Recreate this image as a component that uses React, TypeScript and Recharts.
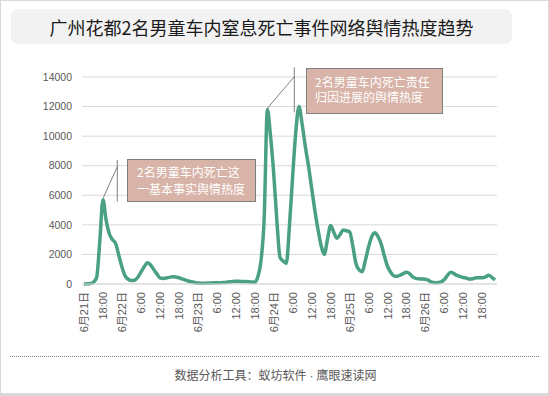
import React from 'react';
import { LineChart, Line, XAxis, YAxis, CartesianGrid } from 'recharts';

// Hourly heat values, starting 6月21日 12:00
const day21 = [0, 10, 30, 120, 450, 2900, 5700, 4300, 3400, 3000, 2750, 1950];
const day22 = [1150, 550, 320, 230, 250, 450, 800, 1150, 1430, 1300, 1000, 700, 420, 380, 400, 450, 490, 480, 420, 350, 280, 200, 150, 100];
const day23 = [60, 50, 50, 60, 70, 80, 80, 90, 100, 120, 150, 170, 180, 180, 170, 170, 160, 130, 120, 500, 1600, 4500, 11800, 10000];
const day24 = [7500, 4300, 1800, 1550, 1400, 4000, 7300, 10300, 12000, 10800, 9300, 8000, 6500, 5000, 3700, 2600, 2000, 3000, 3950, 3500, 3100, 3350, 3650, 3600];
const day25 = [3530, 2600, 1400, 950, 830, 1600, 2500, 3200, 3460, 3200, 2700, 1900, 1200, 800, 550, 520, 600, 700, 800, 700, 480, 380, 350, 340];
const day26 = [320, 250, 120, 80, 100, 150, 300, 600, 800, 700, 580, 500, 440, 400, 330, 350, 430, 430, 430, 480, 600, 450, 270];

const days = [
  { day: 21, startHour: 12, values: day21 },
  { day: 22, startHour: 0, values: day22 },
  { day: 23, startHour: 0, values: day23 },
  { day: 24, startHour: 0, values: day24 },
  { day: 25, startHour: 0, values: day25 },
  { day: 26, startHour: 0, values: day26 },
];

const tickLabels = [
  '6月21日', '18:00',
  '6月22日', '6:00', '12:00', '18:00',
  '6月23日', '6:00', '12:00', '18:00',
  '6月24日', '6:00', '12:00', '18:00',
  '6月25日', '6:00', '12:00', '18:00',
  '6月26日', '6:00', '12:00', '18:00',
];

const data: { key: string; idx: number; value: number }[] = [];
days.forEach((d) => {
  d.values.forEach((v, j) => {
    data.push({ key: `6/${d.day} ${d.startHour + j}:00`, idx: data.length, value: v });
  });
});

const yTicks = [0, 2000, 4000, 6000, 8000, 10000, 12000, 14000];

const title = '广州花都2名男童车内窒息死亡事件网络舆情热度趋势';
const note1 = '2名男童车内死亡这\n一基本事实舆情热度';
const note2 = '2名男童车内死亡责任\n归因进展的舆情热度';
const footerLeft = '数据分析工具：蚁坊软件';
const footerRight = '鹰眼速读网';

const CJK = '"Noto Sans CJK SC", "Liberation Sans", sans-serif';
const NUM = '"Liberation Sans", "Noto Sans CJK SC", sans-serif';

const XTick = (props: any) => {
  const { x, y, payload } = props;
  const i = data.findIndex((d) => d.key === payload.value);
  const label = tickLabels[Math.round(i / 6)] ?? '';
  return (
    <text
      x={x}
      y={y}
      transform={`rotate(-90 ${x} ${y})`}
      textAnchor="end"
      dominantBaseline="central"
      fill="#595959"
      fontSize={11}
      fontFamily={NUM}
    >
      {label}
    </text>
  );
};

const boxStyle: React.CSSProperties = {
  position: 'absolute',
  background: '#d8b3a7',
  border: '1px solid #7f7f7f',
  boxSizing: 'border-box',
  color: '#ffffff',
  fontFamily: CJK,
  fontSize: 12,
  whiteSpace: 'pre',
};

export default function App() {
  return (
    <div
      style={{
        position: 'absolute',
        left: 0,
        top: 0,
        width: 549,
        height: 396,
        boxSizing: 'border-box',
        border: '1px solid #d9d9d9',
        borderBottomWidth: 3,
        background: '#ffffff',
        overflow: 'hidden',
      }}
    >
      <div
        style={{
          position: 'absolute',
          left: 10,
          top: 8,
          width: 501,
          height: 35,
          background: '#f2f2f2',
          borderRadius: 7,
          display: 'flex',
          alignItems: 'center',
          justifyContent: 'center',
          fontFamily: CJK,
          fontSize: 18,
          color: '#1a1a1a',
          whiteSpace: 'nowrap',
        }}
      >
        {title}
      </div>

      <div style={{ position: 'absolute', left: -1, top: -1 }}>
        <LineChart
          width={549}
          height={396}
          data={data}
          margin={{ top: 77, right: 52, left: 0, bottom: 0 }}
        >
          <CartesianGrid vertical={false} stroke="#d9d9d9" strokeWidth={1} />
          <XAxis
            dataKey="key"
            interval={5}
            height={112}
            padding={{ left: 2, right: 2 }}
            axisLine={{ stroke: '#d9d9d9' }}
            tickLine={false}
            tick={<XTick />}
          />
          <YAxis
            width={82}
            domain={[0, 14000]}
            ticks={yTicks}
            axisLine={false}
            tickLine={false}
            tickSize={0}
            tickMargin={10}
            tick={{ fill: '#595959', fontSize: 10.5, fontFamily: NUM }}
          />
          <Line
            type="monotone"
            dataKey="value"
            stroke="#4aa085"
            strokeWidth={3.5}
            dot={false}
            isAnimationActive={false}
          />
        </LineChart>
      </div>

      <svg
        width={549}
        height={396}
        style={{ position: 'absolute', left: -1, top: -1, pointerEvents: 'none' }}
      >
        <polyline points="103.3,197.7 117.3,166.7" fill="none" stroke="#7f7f7f" strokeWidth={1} />
        <line x1={117.3} y1={160} x2={117.3} y2={201.7} stroke="#7f7f7f" strokeWidth={1} />
        <polyline points="266.7,109 294.3,76.7" fill="none" stroke="#7f7f7f" strokeWidth={1} />
        <line x1={294.3} y1={67.3} x2={294.3} y2={112.3} stroke="#7f7f7f" strokeWidth={1} />
      </svg>

      <div style={{ ...boxStyle, left: 126, top: 158, width: 129, height: 43, paddingLeft: 9, paddingTop: 3, lineHeight: '17px' }}>
        {note1}
      </div>
      <div style={{ ...boxStyle, left: 305, top: 67, width: 137, height: 46, paddingLeft: 8, paddingTop: 5, lineHeight: '15px' }}>
        {note2}
      </div>

      <div
        style={{
          position: 'absolute',
          left: 9,
          top: 355,
          width: 529,
          borderTop: '1px dotted #7f7f7f',
        }}
      />
      <div
        style={{
          position: 'absolute',
          left: 0,
          top: 365,
          width: 549,
          textAlign: 'center',
          fontFamily: CJK,
          fontSize: 12,
          color: '#595959',
          lineHeight: '18px',
          whiteSpace: 'nowrap',
        }}
      >
        {footerLeft}
        <span style={{ fontFamily: NUM, margin: '0 3px' }}>·</span>
        {footerRight}
      </div>
    </div>
  );
}
